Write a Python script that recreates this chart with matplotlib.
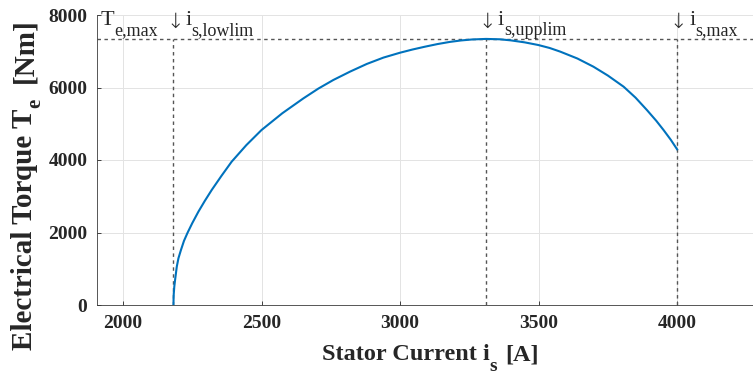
import matplotlib
matplotlib.use("Agg")
import matplotlib.pyplot as plt
from matplotlib.transforms import IdentityTransform

plt.rcParams['font.family'] = ['Liberation Serif', 'DejaVu Serif']

# Torque vs. stator current
stator_current = [2182, 2182.5, 2183, 2185, 2188, 2191, 2194, 2200, 2209, 2220,
                  2233, 2250, 2272, 2295, 2320, 2355, 2392, 2445, 2500, 2575,
                  2651, 2705, 2759, 2820, 2880, 2940, 3000, 3045, 3090, 3135,
                  3180, 3220, 3260, 3310, 3360, 3400, 3450, 3499, 3540, 3578,
                  3640, 3698, 3750, 3807, 3850, 3891, 3925, 3951, 3977, 4000]
torque = [0, 210, 300, 505, 700, 880, 1057, 1290, 1517, 1770,
          1995, 2260, 2574, 2870, 3172, 3560, 3953, 4410, 4828, 5290,
          5700, 5970, 6207, 6440, 6650, 6825, 6960, 7048, 7126, 7198,
          7258, 7298, 7325, 7340, 7330, 7300, 7245, 7172, 7090, 6990,
          6800, 6574, 6330, 6022, 5720, 5379, 5080, 4828, 4560, 4295]

te_max = 7340
i_lowlim = 2182
i_upplim = 3310
i_max = 4000

x_ticks = [2000, 2500, 3000, 3500, 4000]
y_ticks = [0, 2000, 4000, 6000, 8000]

W, H = 753, 377
fig = plt.figure(figsize=(W / 100, H / 100), dpi=100)
ax = fig.add_axes([97 / W, 72 / H, 656 / W, 290 / H])

ax.plot(stator_current, torque, color='#0072BD', lw=1.5, zorder=3)

dash = dict(color='#555555', lw=1.0, ls=(0, (2.5, 2.5)), zorder=2)
ax.axhline(te_max, **dash)
for xv in (i_lowlim, i_upplim, i_max):
    ax.plot([xv, xv], [0, te_max], **dash)

ax.set_xlim(1906, 4274)
ax.set_ylim(0, 8000)
ax.set_xticks(x_ticks)
ax.set_yticks(y_ticks)
ax.grid(True, color='#e3e3e3', lw=0.7, zorder=0)
ax.set_axisbelow(True)
for s in ('top', 'right'):
    ax.spines[s].set_visible(False)
for s in ('left', 'bottom'):
    ax.spines[s].set_color('#3a3a3a')
    ax.spines[s].set_linewidth(0.6)
ax.tick_params(direction='in', length=3, width=0.6, colors='#262626',
               labelsize=14, pad=7)
for lbl in ax.get_xticklabels() + ax.get_yticklabels():
    lbl.set_fontweight('bold')

renderer = fig.canvas.get_renderer()
ident = IdentityTransform()
TXT = '#262626'


def draw_runs(x, y, runs, rotation=0):
    """Draw text pieces one after another in pixel coordinates (y from top).

    Each run is (text, size, weight, drop, gap_before); drop shifts the run
    below the baseline, as for subscripts.
    """
    pos = 0.0
    for s, size, weight, drop, gap in runs:
        pos += gap
        if rotation == 0:
            t = fig.text(x + pos, H - (y + drop), s, transform=ident,
                         fontsize=size, fontweight=weight, color=TXT,
                         ha='left', va='baseline')
            pos += t.get_window_extent(renderer).width
        else:
            t = fig.text(x + drop, H - (y - pos), s, transform=ident,
                         fontsize=size, fontweight=weight, color=TXT,
                         ha='left', va='baseline', rotation=90,
                         rotation_mode='anchor')
            pos += t.get_window_extent(renderer).height


# axis labels
draw_runs(322, 360, [('Stator Current i', 17.5, 'bold', 0, 0),
                     ('s', 14, 'bold', 11, 0),
                     ('[A]', 17.5, 'bold', 0, 8)])
draw_runs(32, 350, [('Electrical Torque T', 21, 'bold', 0, 0),
                    ('e', 15, 'bold', 8, 1),
                    ('[Nm]', 21, 'bold', 0, 15)], rotation=90)

# annotations above the limit lines
base = 25
draw_runs(101, base, [('T', 16, 'normal', 0, 0),
                      ('e,max', 13, 'normal', 10, 0)])
for xv, name in ((i_lowlim, 's,lowlim'), (i_upplim, 's,upplim'),
                 (i_max, 's,max')):
    px = ax.transData.transform((xv, 0))[0]
    fig.text(px + 1.5, H - (base + 3), '\u2193', transform=ident,
             fontsize=15, family='DejaVu Sans', fontweight='light',
             color=TXT, ha='center', va='baseline')
    draw_runs(px + 12, base, [('i', 16, 'normal', 0, 0),
                              (name, 13, 'normal', 10, 0)])

fig.savefig('out.png', dpi=100)
